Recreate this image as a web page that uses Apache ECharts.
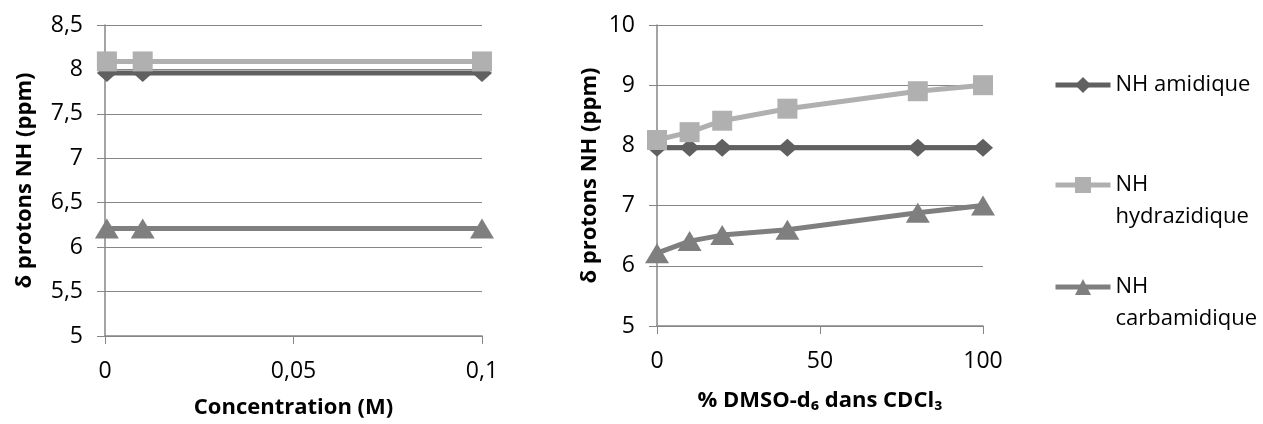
<!DOCTYPE html>
<html>
<head>
<meta charset="utf-8">
<script src="https://cdn.jsdelivr.net/npm/echarts@6/dist/echarts.min.js"></script>
<style>
html,body{margin:0;padding:0;background:#fff;}
#chart{width:1263px;height:424px;}
</style>
</head>
<body>
<div id="chart"></div>
<script>
// ---- data ----
const seriesNames = ['NH amidique', 'NH hydrazidique', 'NH carbamidique'];
// left chart: concentration (M)
const concX = [0.0005, 0.01, 0.1];
const concAmidique = [7.96, 7.96, 7.96];
const concHydrazidique = [8.09, 8.09, 8.09];
const concCarbamidique = [6.21, 6.21, 6.21];
// right chart: % DMSO-d6 in CDCl3
const dmsoX = [0, 10, 20, 40, 80, 100];
const dmsoAmidique = [7.96, 7.96, 7.96, 7.96, 7.96, 7.96];
const dmsoHydrazidique = [8.09, 8.22, 8.41, 8.61, 8.9, 9.0];
const dmsoCarbamidique = [6.21, 6.41, 6.51, 6.6, 6.88, 7.0];
// axis texts
const leftXTitle = 'Concentration (M)';
const rightXTitle = '% DMSO-d\u2086 dans CDCl\u2083';
const yTitle = '\u03b4 protons NH (ppm)';

const colors = ['#606060', '#b0b0b0', '#7f7f7f'];
const symbols = ['diamond', 'rect', 'triangle'];
const symbolSizes = [[20, 18], 20, [24, 20]];
const FONT = '"Open Sans", "Noto Sans", "DejaVu Sans", sans-serif';
const grey = '#868686';

const pair = (xs, ys) => xs.map((x, i) => [x, ys[i]]);
const comma = v => String(+v.toFixed(4)).replace('.', ',');

function xAxis(gridIndex, min, max, interval, name, gap) {
  return {
    type: 'value', gridIndex, min, max, interval,
    name, nameLocation: 'middle', nameGap: gap,
    nameTextStyle: {fontFamily: FONT, fontSize: 22, fontWeight: 'bold', color: '#000'},
    axisLine: {show: true, onZero: false, lineStyle: {color: grey, width: 1.5}},
    axisTick: {show: true, length: 8, lineStyle: {color: grey, width: 1}},
    axisLabel: {fontFamily: FONT, fontSize: 23, color: '#000', margin: 24, formatter: comma},
    splitLine: {show: false}
  };
}
function yAxis(gridIndex, min, max, interval, gap) {
  return {
    type: 'value', gridIndex, min, max, interval,
    name: yTitle, nameLocation: 'middle', nameGap: gap,
    nameTextStyle: {fontFamily: FONT, fontSize: 22, fontWeight: 'bold', color: '#000'},
    axisLine: {show: true, lineStyle: {color: grey, width: 1.5}},
    axisTick: {show: true, length: 8, lineStyle: {color: grey, width: 1}},
    axisLabel: {fontFamily: FONT, fontSize: 23, color: '#000', margin: 22, formatter: comma},
    splitLine: {show: true, lineStyle: {color: grey, width: 1.2}}
  };
}
function lineSeries(i, idx, data) {
  return {
    name: seriesNames[i], type: 'line', xAxisIndex: idx, yAxisIndex: idx,
    data, symbol: symbols[i], symbolSize: symbolSizes[i], showSymbol: true,
    smooth: false, animation: false,
    lineStyle: {color: colors[i], width: 5},
    itemStyle: {color: colors[i]},
    z: 2 + i
  };
}
function legendFor(i, top, text) {
  return {
    data: [seriesNames[i]], left: 1053, top, padding: 0,
    itemWidth: 55, itemHeight: 20,
    lineStyle: {width: 5},
    formatter: () => text,
    textStyle: {fontFamily: FONT, fontSize: 22, color: '#000', lineHeight: 32}
  };
}

const chart = echarts.init(document.getElementById('chart'), null, {renderer: 'canvas'});
chart.setOption({
  animation: false,
  backgroundColor: '#fff',
  grid: [
    {left: 105, top: 25, width: 377, height: 312.5},
    {left: 657, top: 25, width: 326, height: 301}
  ],
  xAxis: [
    xAxis(0, 0, 0.1, 0.05, leftXTitle, 61),
    xAxis(1, 0, 100, 50, rightXTitle, 64)
  ],
  yAxis: [
    yAxis(0, 5, 8.5, 0.5, 69),
    yAxis(1, 5, 10, 1, 56)
  ],
  legend: [
    legendFor(0, 69, 'NH amidique'),
    legendFor(1, 137, '\u00a0\nNH\nhydrazidique'),
    legendFor(2, 239, '\u00a0\nNH\ncarbamidique')
  ],
  series: [
    lineSeries(0, 0, pair(concX, concAmidique)),
    lineSeries(1, 0, pair(concX, concHydrazidique)),
    lineSeries(2, 0, pair(concX, concCarbamidique)),
    lineSeries(0, 1, pair(dmsoX, dmsoAmidique)),
    lineSeries(1, 1, pair(dmsoX, dmsoHydrazidique)),
    lineSeries(2, 1, pair(dmsoX, dmsoCarbamidique))
  ]
});
</script>
</body>
</html>
